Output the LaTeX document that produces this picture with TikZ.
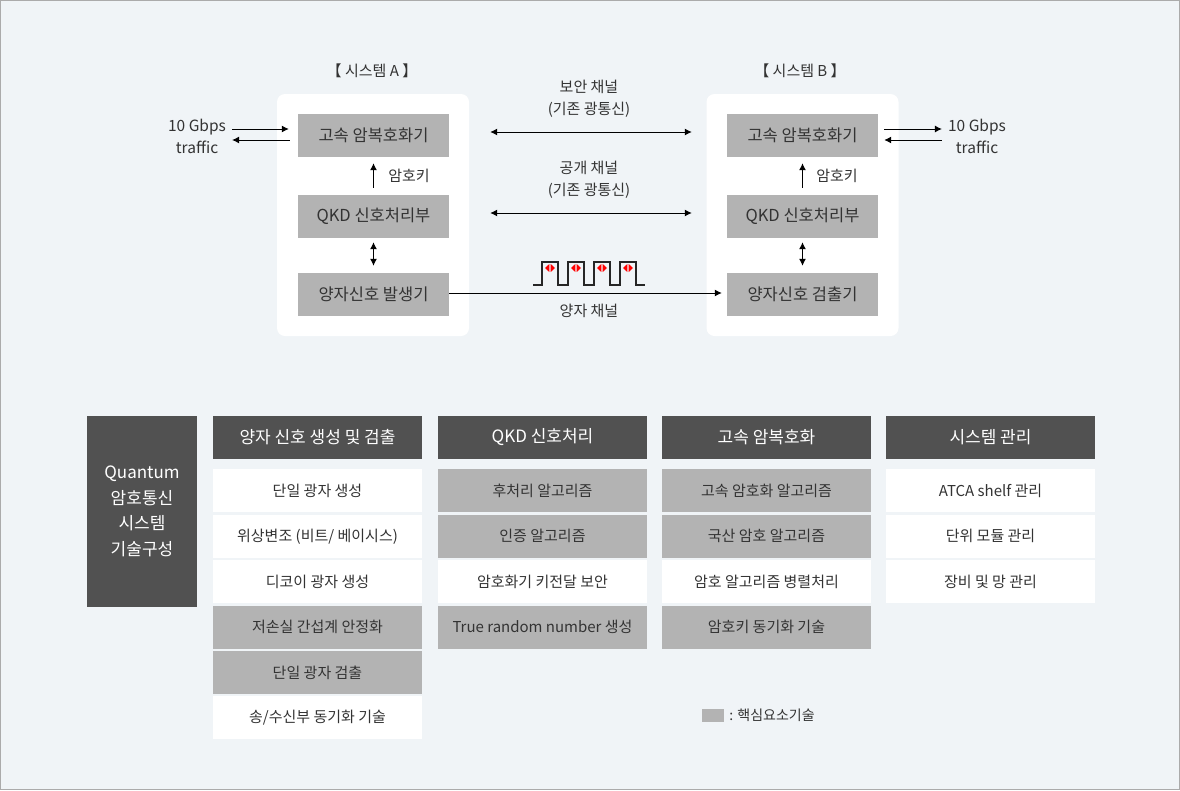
\documentclass[tikz,border=0pt]{standalone}
\usepackage{fontspec}
\setmainfont{Noto Sans CJK KR}
\usepackage{tikz}
\usetikzlibrary{arrows.meta, positioning}
\definecolor{bgc}{HTML}{F0F4F7}
\definecolor{frm}{HTML}{ABABAB}
\definecolor{keyc}{HTML}{B3B3B3}
\definecolor{hdc}{HTML}{515151}
\definecolor{txc}{HTML}{333333}
\tikzset{
  sys/.style ={rectangle, rounded corners=8pt, fill=white, minimum width=192pt, minimum height=242pt, inner sep=0pt},
  blk/.style ={rectangle, fill=keyc, minimum width=151pt, minimum height=43pt, inner sep=0pt, text=txc, font=\fontsize{16.5}{18}\selectfont},
  ttl/.style ={text=txc, font=\fontsize{15}{17}\selectfont},
  lbl/.style ={align=center, text=txc, inner sep=0pt, font=\fontsize{15}{22}\selectfont},
  hd/.style  ={rectangle, fill=hdc, text=white, minimum width=209pt, minimum height=43pt, inner sep=0pt, font=\fontsize{17}{18}\selectfont},
  cel/.style ={rectangle, fill=white, text=txc, minimum width=209pt, minimum height=43pt, inner sep=0pt, font=\fontsize{15}{16}\selectfont},
  key/.style ={cel, fill=keyc},
  fl/.style  ={-{Latex[length=7pt,width=7pt]}, line width=1pt},
  fl2/.style ={{Latex[length=7pt,width=7pt]}-{Latex[length=7pt,width=7pt]}, line width=1pt},
  pls/.style ={fill=red},
}

\begin{document}
\begin{tikzpicture}[x=1pt, y=1pt, node distance=2pt]
  \useasboundingbox (0,0) rectangle (1180,-790);
  \draw[fill=bgc, draw=frm, line width=1pt] (0.5,-0.5) rectangle (1179.5,-789.5);

  % system A
  \node[sys] (sysA) at (373,-215) {};
  \node[ttl] (tA) at (372,-71) {【 시스템 A 】};
  \node[blk] (aenc) at (373.5,-135.5) {고속 암복호화기};
  \node[blk] (aqkd) at (373.5,-216.5) {QKD 신호처리부};
  \node[blk] (agen) at (373.5,-294.5) {양자신호 발생기};
  \node[lbl, font=\fontsize{15.5}{22}\selectfont] (trA) at (197,-136.5) {10 Gbps\\traffic};
  \node[lbl] (kA) at (409,-176) {암호키};
  \draw[fl, shorten <=6pt, shorten >=9pt] ([yshift=6.5pt]aenc.west -| trA.east) -- ([yshift=6.5pt]aenc.west);
  \draw[fl, shorten <=8pt, shorten >=6pt] ([yshift=-4.5pt]aenc.west) -- ([yshift=-4.5pt]aenc.west -| trA.east);
  \draw[fl, shorten <=7pt, shorten >=6pt] (aqkd.north) -- (aenc.south);
  \draw[fl2, shorten <=4pt, shorten >=7pt] (aqkd.south) -- (agen.north);

  % system B
  \node[sys] (sysB) at (802.5,-215) {};
  \node[ttl] (tB) at (800,-71) {【 시스템 B 】};
  \node[blk] (benc) at (802.5,-135.5) {고속 암복호화기};
  \node[blk] (bqkd) at (802.5,-216.5) {QKD 신호처리부};
  \node[blk] (bdet) at (802.5,-294.5) {양자신호 검출기};
  \node[lbl, font=\fontsize{15.5}{22}\selectfont] (trB) at (977,-136.5) {10 Gbps\\traffic};
  \node[lbl] (kB) at (837,-176) {암호키};
  \draw[fl, shorten <=6pt, shorten >=6pt] ([yshift=6.5pt]benc.east) -- ([yshift=6.5pt]benc.east -| trB.west);
  \draw[fl, shorten <=6pt, shorten >=6pt] ([yshift=-4.5pt]benc.east -| trB.west) -- ([yshift=-4.5pt]benc.east);
  \draw[fl, shorten <=7pt, shorten >=6pt] (bqkd.north) -- (benc.south);
  \draw[fl2, shorten <=4pt, shorten >=7pt] (bqkd.south) -- (bdet.north);

  % channels
  \node[lbl] (c1) at (589,-99) {보안 채널\\(기존 광통신)};
  \node[lbl] (c2) at (589,-180) {공개 채널\\(기존 광통신)};
  \node[lbl] (c3) at (589,-311) {양자 채널};
  \draw[fl2, shorten <=41pt, shorten >=35pt] ([yshift=3.5pt]aenc.east) -- ([yshift=3.5pt]benc.west);
  \draw[fl2, shorten <=41pt, shorten >=35pt] ([yshift=3.5pt]aqkd.east) -- ([yshift=3.5pt]bqkd.west);
  \draw[fl, shorten >=5pt] ([yshift=1.5pt]agen.east) -- ([yshift=1.5pt]bdet.west);
  \draw[line width=1.2pt, black!85] (533,-285) -- (542,-285) -- (542,-262) -- (558,-262) -- (558,-285)
    -- (568,-285) -- (568,-262) -- (584,-262) -- (584,-285) -- (594,-285) -- (594,-262) -- (610,-262)
    -- (610,-285) -- (620,-285) -- (620,-262) -- (636,-262) -- (636,-285) -- (645,-285);
  \fill[pls] (545,-268) -- (549.3,-264) -- (549.3,-272) -- cycle (555,-268) -- (550.7,-264) -- (550.7,-272) -- cycle;
  \fill[pls] (571,-268) -- (575.3,-264) -- (575.3,-272) -- cycle (581,-268) -- (576.7,-264) -- (576.7,-272) -- cycle;
  \fill[pls] (597,-268) -- (601.3,-264) -- (601.3,-272) -- cycle (607,-268) -- (602.7,-264) -- (602.7,-272) -- cycle;
  \fill[pls] (623,-268) -- (627.3,-264) -- (627.3,-272) -- cycle (633,-268) -- (628.7,-264) -- (628.7,-272) -- cycle;

  % technology table
  \node[rectangle, fill=hdc, minimum width=110pt, minimum height=191pt, inner sep=0pt, align=center,
        text=white, font=\fontsize{17}{25.5}\selectfont] (qt) at (142,-511.5) {Quantum\\암호통신\\시스템\\기술구성};

  \node[hd] (h1) at (317.5,-437.5) {양자 신호 생성 및 검출};
  \node[cel, below=10pt of h1] (r11) {단일 광자 생성};
  \node[cel, below=of r11] (r12) {위상변조 (비트/ 베이시스)};
  \node[cel, below=of r12] (r13) {디코이 광자 생성};
  \node[key, below=of r13] (r14) {저손실 간섭계 안정화};
  \node[key, below=of r14] (r15) {단일 광자 검출};
  \node[cel, below=of r15] (r16) {송/수신부 동기화 기술};

  \node[hd] (h2) at (542.5,-437.5) {QKD 신호처리};
  \node[key, below=10pt of h2] (r21) {후처리 알고리즘};
  \node[key, below=of r21] (r22) {인증 알고리즘};
  \node[cel, below=of r22] (r23) {암호화기 키전달 보안};
  \node[key, below=of r23] (r24) {True random number 생성};

  \node[hd] (h3) at (766.5,-437.5) {고속 암복호화};
  \node[key, below=10pt of h3] (r31) {고속 암호화 알고리즘};
  \node[key, below=of r31] (r32) {국산 암호 알고리즘};
  \node[cel, below=of r32] (r33) {암호 알고리즘 병렬처리};
  \node[key, below=of r33] (r34) {암호키 동기화 기술};

  \node[hd] (h4) at (990.5,-437.5) {시스템 관리};
  \node[cel, below=10pt of h4] (r41) {ATCA shelf 관리};
  \node[cel, below=of r41] (r42) {단위 모듈 관리};
  \node[cel, below=of r42] (r43) {장비 및 망 관리};

  % legend
  \node[rectangle, fill=keyc, minimum width=22pt, minimum height=13pt, inner sep=0pt] (lg) at (713,-715.5) {};
  \node[lbl, right=5pt of lg, font=\fontsize{14}{16}\selectfont] (lgt) {: 핵심요소기술};
\end{tikzpicture}
\end{document}
